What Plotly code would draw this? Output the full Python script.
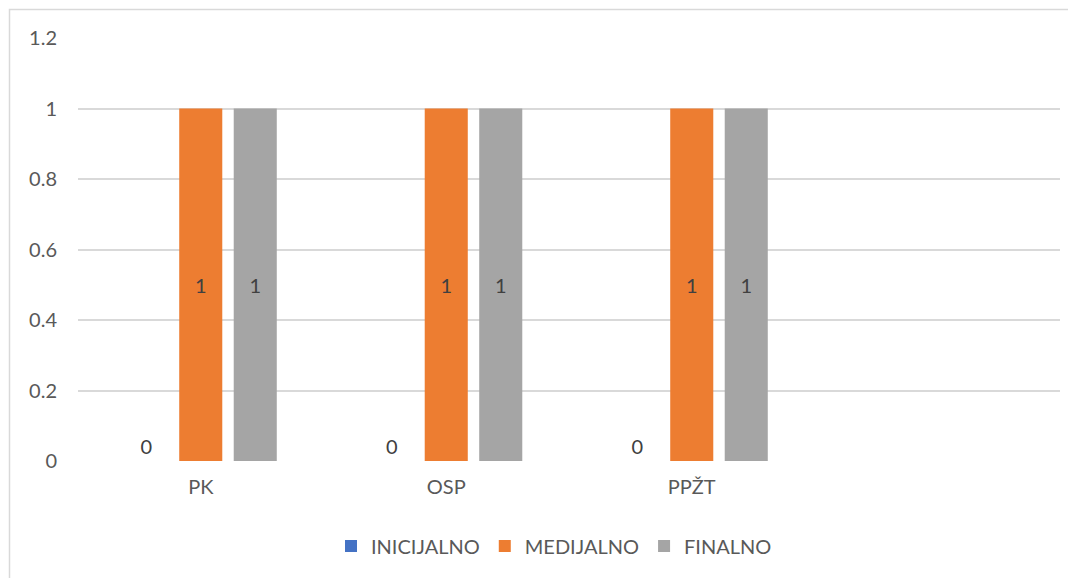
import plotly.graph_objects as go

categories = ["PK", "OSP", "PPŽT", " "]
inicijalno = [0, 0, 0, None]
medijalno = [1, 1, 1, None]
finalno = [1, 1, 1, None]
series_names = ["INICIJALNO", "MEDIJALNO", "FINALNO"]
colors = ["#4472C4", "#ED7D31", "#A5A5A5"]
y_ticks = [0, 0.2, 0.4, 0.6, 0.8, 1, 1.2]

FONT = "Lato"
TXT = "#595959"
FS = 20

fig = go.Figure()
for name, vals, col in zip(series_names, [inicijalno, medijalno, finalno], colors):
    is_zero = name == "INICIJALNO"
    fig.add_trace(go.Bar(
        x=categories, y=vals, name=name,
        marker=dict(color=col, line=dict(width=0)),
        text=[("" if v is None else f"{v}") for v in vals],
        textposition="outside" if is_zero else "inside",
        insidetextanchor="middle",
        textfont=dict(family=FONT, size=FS, color="#404040"),
        outsidetextfont=dict(family=FONT, size=FS, color="#404040"),
        insidetextfont=dict(family=FONT, size=FS, color="#404040"),
        cliponaxis=False,
        hoverinfo="skip",
    ))

# page has an 8px body margin; figure origin is at (8, 8) on screen
OFF = 8
W, H = 1076, 578
L, T = 78 - OFF, 38 - OFF
R = W - (1060 - OFF)
B = H - (461 - OFF)
pw = W - L - R
ph = H - T - B

fig.update_layout(
    width=W, height=H,
    margin=dict(l=L, r=R, t=T, b=B),
    paper_bgcolor="white", plot_bgcolor="white",
    barmode="group", bargap=0.334, bargroupgap=0.21,
    font=dict(family=FONT, size=FS, color=TXT),
    showlegend=True,
    legend=dict(orientation="h", x=(554 - 78) / pw, xanchor="center",
                y=(461 - 546) / ph, yanchor="middle",
                font=dict(family=FONT, size=FS, color=TXT),
                itemwidth=30, traceorder="normal"),
    xaxis=dict(showgrid=False, showline=False, ticks="", zeroline=False,
               tickfont=dict(family=FONT, size=FS, color=TXT),
               ticklabelstandoff=12),
    yaxis=dict(range=[0, 1.2], tickvals=y_ticks, showgrid=True,
               gridcolor="#D9D9D9", gridwidth=1.5, zeroline=False,
               showline=False, ticks="",
               tickfont=dict(family=FONT, size=FS, color=TXT),
               ticklabelstandoff=20),
    shapes=[dict(type="rect", xref="paper", yref="paper",
                 x0=(9.5 - 78) / pw, x1=1.2, y0=-0.5, y1=1 + (38 - 9.5) / ph,
                 line=dict(color="#D9D9D9", width=1.5), fillcolor="rgba(0,0,0,0)",
                 layer="below")],
)

fig.write_html("out.html")
